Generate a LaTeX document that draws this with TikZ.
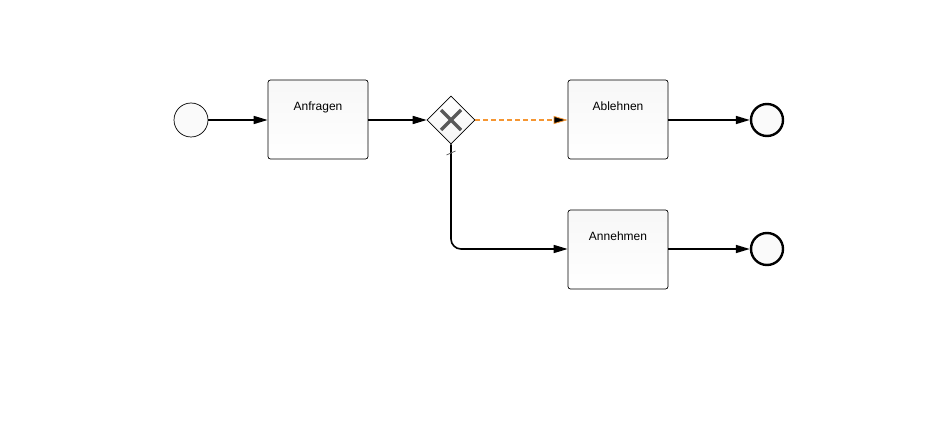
\documentclass[tikz,border=0pt]{standalone}
\usepackage{fontspec}
\setmainfont{Liberation Sans}
\usetikzlibrary{arrows.meta,shapes.geometric}
\definecolor{dfltorange}{RGB}{245,150,50}
\begin{document}
\begin{tikzpicture}[x=1pt,y=-1pt,
  flow/.style={line width=1.6pt,-{Triangle[length=14pt,width=8pt]}},
  task/.style={draw=black,line width=0.7pt,rounded corners=2.5pt,top color=gray!6,bottom color=white,
    minimum width=100pt,minimum height=79pt,inner sep=0pt,font=\fontsize{12}{14}\selectfont,
    text height=9pt,text depth=27pt},
  startev/.style={circle,draw=black,line width=0.7pt,fill=gray!4,minimum size=34pt,inner sep=0pt},
  endev/.style={circle,draw=black,line width=2.4pt,fill=gray!4,minimum size=32pt,inner sep=0pt},
  xgate/.style={diamond,draw=black,line width=0.6pt,top color=white,bottom color=gray!8,
    minimum width=48pt,minimum height=48pt,inner sep=0pt}]
  \useasboundingbox (0,0) rectangle (941,446);
  % events and tasks
  \node[startev] (start) at (191,120) {};
  \node[task] (anfragen) at (318,119.5) {Anfragen};
  \node[xgate] (gw) at (451,120) {};
  \draw[line width=3.2pt,gray!70!black] (441,110) -- (461,130);
  \draw[line width=3.2pt,gray!70!black] (441,130) -- (461,110);
  \node[task] (ablehnen) at (618,119.5) {Ablehnen};
  \node[task] (annehmen) at (618,249.5) {Annehmen};
  \node[endev] (end1) at (767,120) {};
  \node[endev] (end2) at (767,249) {};
  % flows
  \draw[flow] (start.east) -- (anfragen.west |- start.east);
  \draw[flow] (anfragen.east |- gw) -- (gw.west);
  \draw[line width=1.2pt,dash pattern=on 5pt off 3pt,draw=dfltorange,
    -{Triangle[length=14pt,width=8pt,fill=black,line width=0.8pt]}] (gw.east) -- (ablehnen.west |- gw);
  \draw[flow] (ablehnen.east |- end1) -- (end1);
  \draw[flow,rounded corners=10pt] (gw.south) |- (annehmen.west |- end2);
  \draw[line width=0.8pt,gray!80!black] (446.5,155) -- (455.5,151);
  \draw[flow] (annehmen.east |- end2) -- (end2);
\end{tikzpicture}
\end{document}
